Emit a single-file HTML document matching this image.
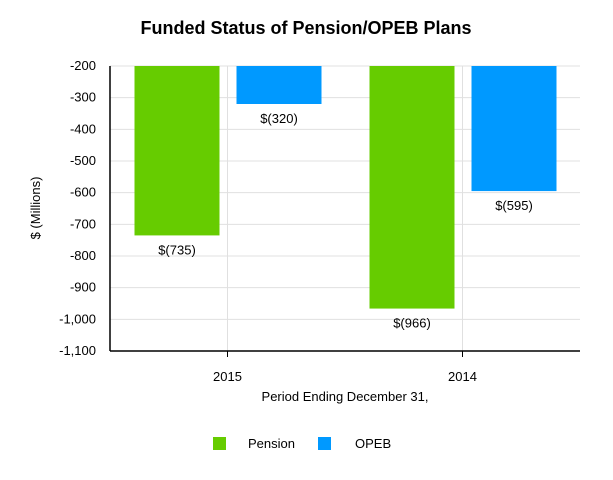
<!DOCTYPE html>
<html><head><meta charset="utf-8"><style>
body{margin:0;background:#fff;font-family:"Liberation Sans",Arial,sans-serif;}
svg{display:block}
</style></head><body>
<svg id="chart" width="613" height="480">
<text x="306" y="34" text-anchor="middle" font-size="18" font-weight="bold">Funded Status of Pension/OPEB Plans</text>
<text transform="translate(40,208) rotate(-90)" text-anchor="middle" font-size="13">$ (Millions)</text>
<text x="345" y="401" text-anchor="middle" font-size="13">Period Ending December 31,</text>
<g id="grid"></g><g id="bars"></g><g id="axes"></g>
<rect x="213" y="437" width="13" height="13" fill="#66cc00"/>
<text x="248" y="448" font-size="13">Pension</text>
<rect x="318" y="437" width="13" height="13" fill="#0099ff"/>
<text x="355" y="448" font-size="13">OPEB</text>
</svg>
<script>
const categories=["2015","2014"];
const pension=[-735,-966];
const opeb=[-320,-595];
const yTicks=[-200,-300,-400,-500,-600,-700,-800,-900,-1000,-1100];
const yTickLabels=["-200","-300","-400","-500","-600","-700","-800","-900","-1,000","-1,100"];
const NS="http://www.w3.org/2000/svg";
const x0=110,x1=580,yTop=66,yBot=351,yMax=-200,yMin=-1100;
function y(v){return yTop+(yMax-v)/(yMax-yMin)*(yBot-yTop);}
const band=(x1-x0)/categories.length;
function cx(i){return x0+band*(i+0.5);}
function mk(t,a,p){const e=document.createElementNS(NS,t);for(const k in a)e.setAttribute(k,a[k]);p.appendChild(e);return e;}
const grid=document.getElementById('grid'),bars=document.getElementById('bars'),axes=document.getElementById('axes');
yTicks.forEach((v,i)=>{
 const l=mk('line',{x1:x0,x2:x1,y1:y(v),y2:y(v),stroke:'#e0e0e0'},grid);
 
 
 const t=mk('text',{x:96,y:y(v)+4,'text-anchor':'end','font-size':13},axes);
 t.textContent=yTickLabels[i];
 
 
});
function fmt(v){return '$('+Math.abs(v)+')';}
categories.forEach((c,i)=>{
 const gx=cx(i);
 const vl=mk('line',{x1:gx,x2:gx,y1:yTop,y2:yBot+6,stroke:'#e0e0e0'},grid);
 
 
 const tk=mk('line',{x1:gx,x2:gx,y1:yBot,y2:yBot+6,stroke:'#000'},axes);
 
 
 const t=mk('text',{x:gx,y:yBot+30,'text-anchor':'middle','font-size':13},axes);
 t.textContent=c;
 
 
 [[pension[i],'#66cc00',-93,'pension'],[opeb[i],'#0099ff',9,'opeb']].forEach(([v,col,off,nm])=>{
  const b=mk('rect',{x:gx+off,y:yTop,width:85,height:y(v)-yTop,fill:col},bars);
  
  
  const lb=mk('text',{x:gx+off+42.5,y:y(v)+19,'text-anchor':'middle','font-size':13},bars);
  lb.textContent=fmt(v);
  
  
 });
});
const ax=mk('line',{x1:x0,x2:x0,y1:yTop,y2:yBot,stroke:'#000','stroke-width':1.5},axes);


const bx=mk('line',{x1:x0,x2:x1,y1:yBot,y2:yBot,stroke:'#000','stroke-width':1.5},axes);


</script>
</body></html>
